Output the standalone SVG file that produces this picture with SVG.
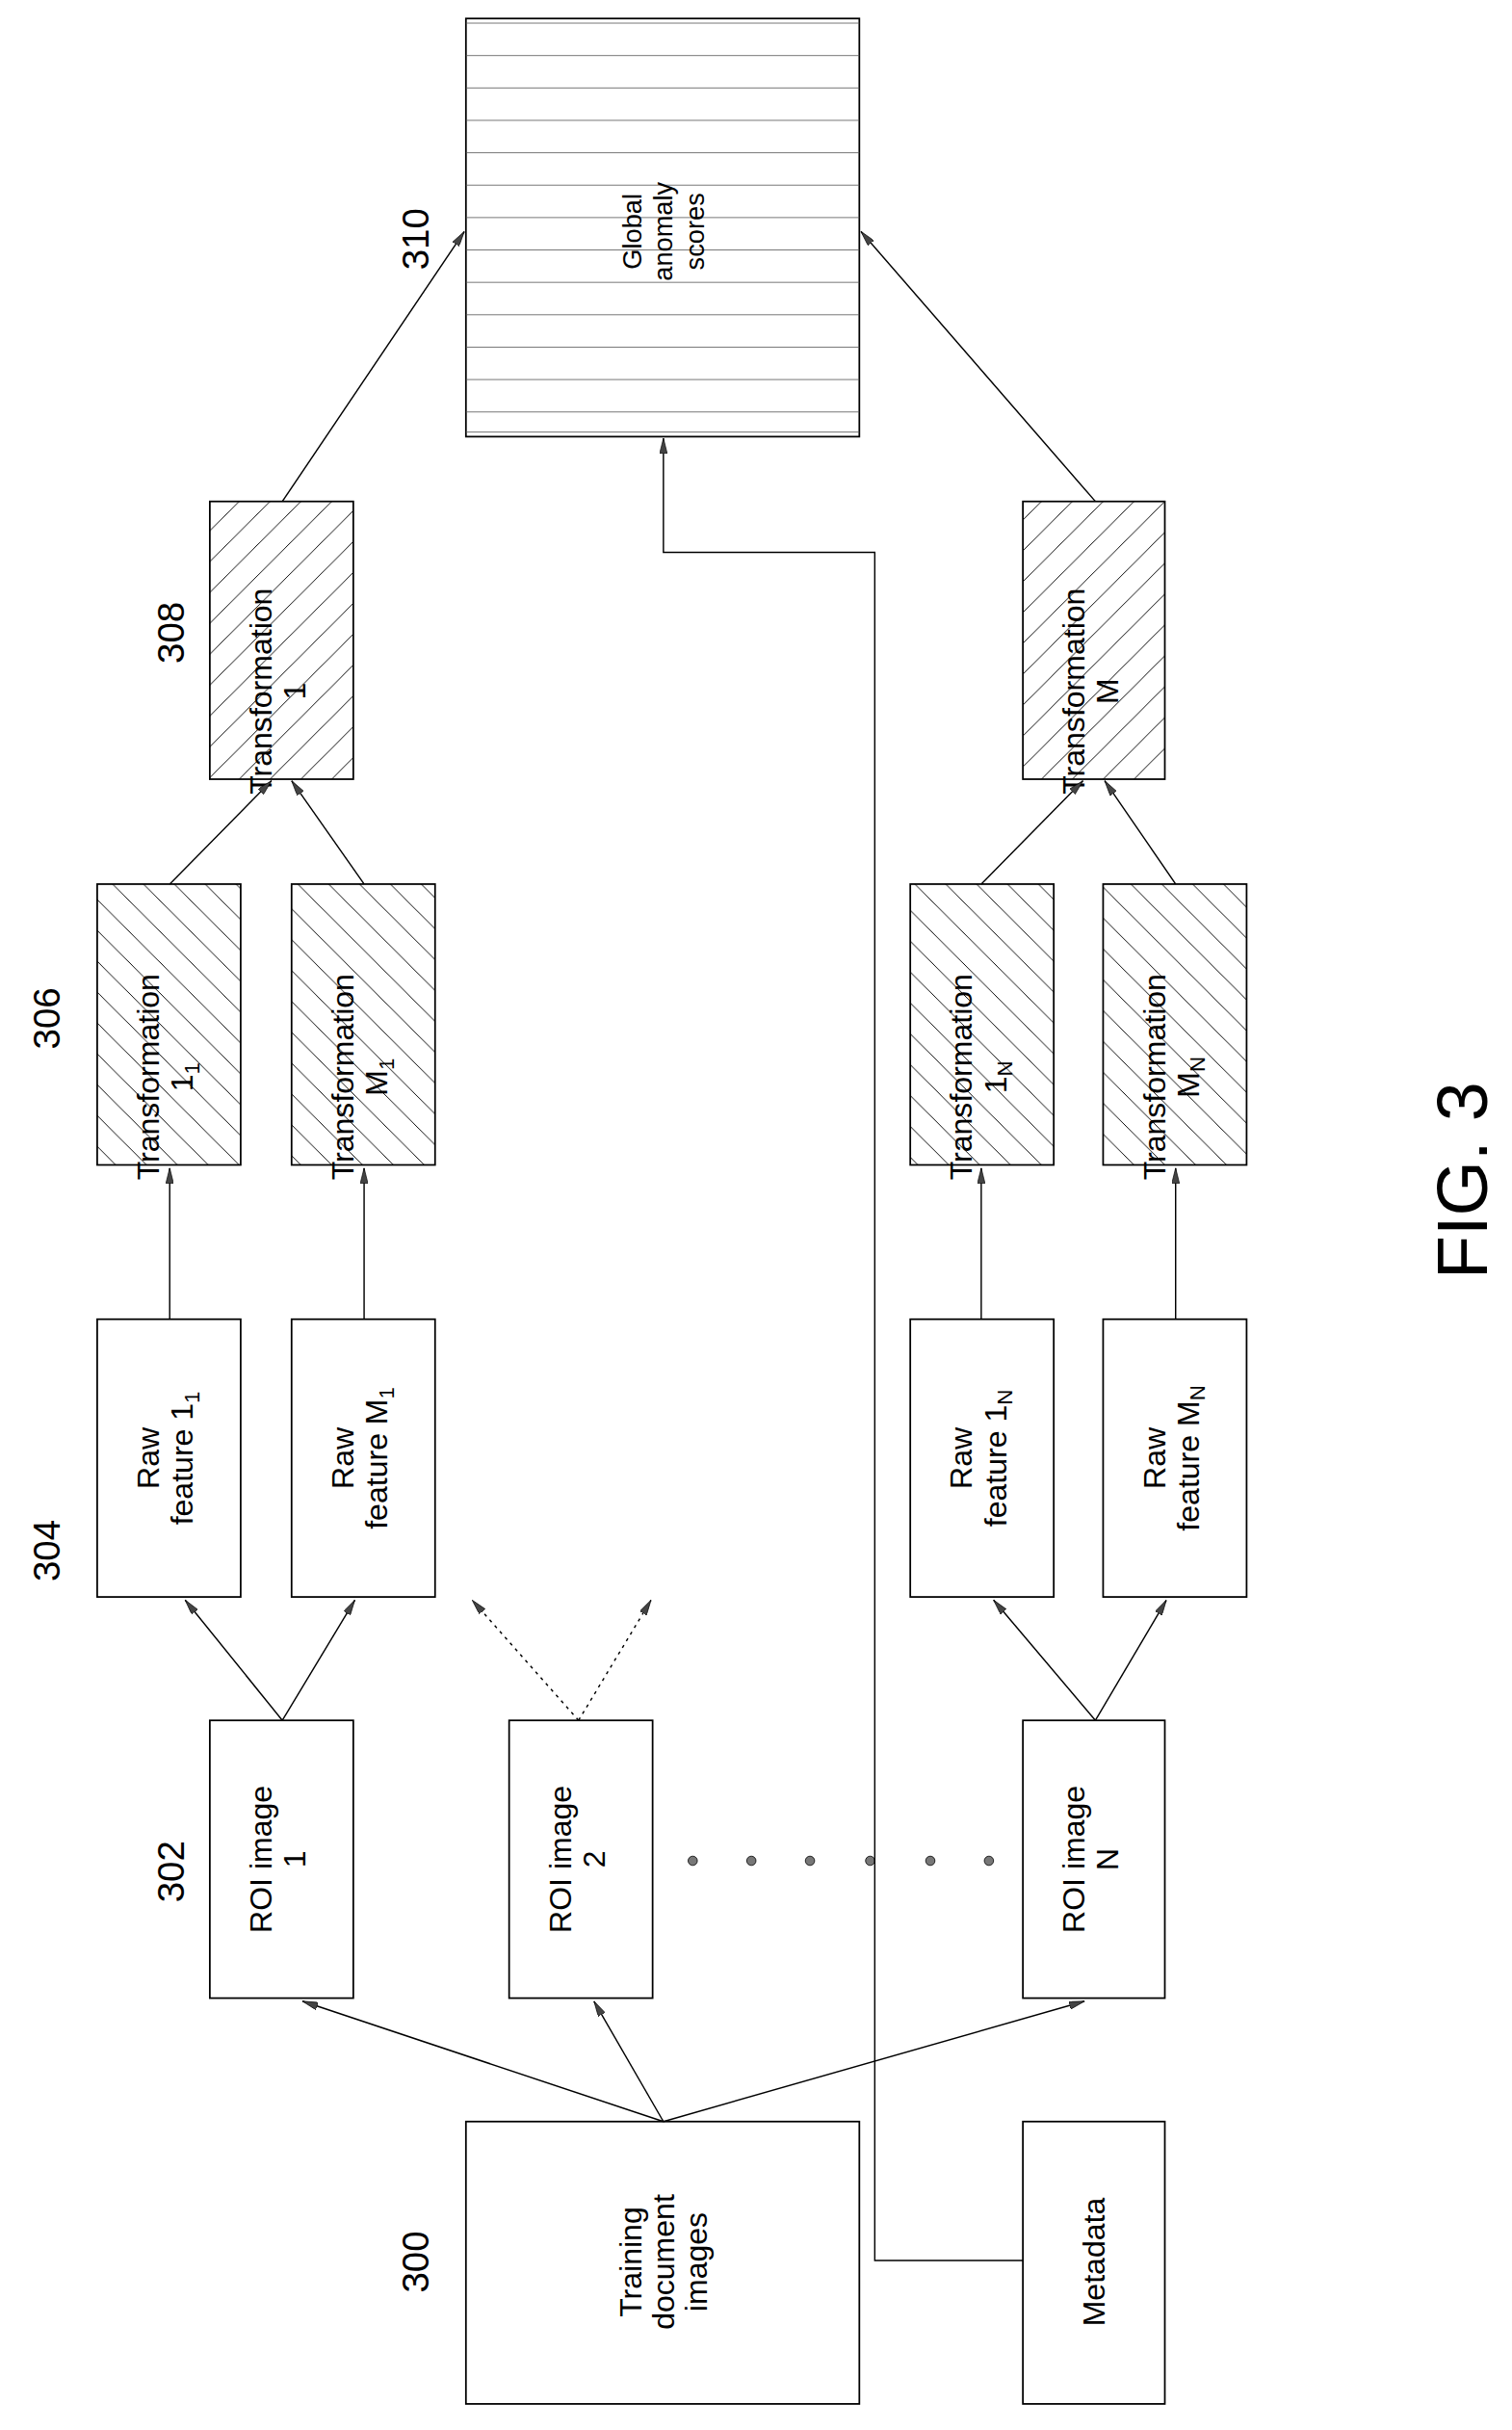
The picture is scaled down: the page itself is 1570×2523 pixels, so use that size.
<svg xmlns="http://www.w3.org/2000/svg" width="1570" height="2523" viewBox="0 0 1570 2523">
<style>
.b{fill:none;stroke:#000;stroke-width:1.1}
.h{stroke:#000;stroke-width:1.1}
.c{fill:none;stroke:#000;stroke-width:0.9}
text{font-family:"Liberation Sans",Arial,sans-serif;fill:#000}
.t{font-size:20px}
.n{font-size:24px}
</style>
<defs>
<marker id="a" viewBox="0 0 12 6" refX="12" refY="3" markerWidth="10" markerHeight="5" orient="auto" markerUnits="userSpaceOnUse"><path d="M0,0 L12,3 L0,6 Z" fill="#444" stroke="#000" stroke-width="0.5"/></marker>
<pattern id="hb" patternUnits="userSpaceOnUse" width="20" height="20"><path d="M-5,-5 L25,25" stroke="#000" stroke-width="0.6"/></pattern>
<pattern id="hf" patternUnits="userSpaceOnUse" width="20" height="20"><path d="M-5,25 L25,-5" stroke="#000" stroke-width="0.6"/></pattern>
</defs>
<rect width="1570" height="2523" fill="#fff"/>
<g transform="scale(1.602)">
<g id="n310">
<rect x="302" y="12" width="255" height="271" fill="#fff" class="h"/>
<path stroke="#555" stroke-width="0.5" fill="none" d="M302,15H557M302,36H557M302,57H557M302,78H557M302,99H557M302,120H557M302,141H557M302,162H557M302,183H557M302,204H557M302,225H557M302,246H557M302,267H557M302,280H557"/>
<g transform="translate(430,150) rotate(-90)" text-anchor="middle" font-size="17"><text y="-14">Global</text><text y="6">anomaly</text><text y="26">scores</text></g>
<text class="n" transform="translate(278,155) rotate(-90)" text-anchor="middle">310</text>
</g>
<g id="n308a"><rect x="136" y="325" width="93" height="180" fill="url(#hf)" class="h"/>
<g transform="translate(182,448) rotate(-90)" text-anchor="middle" class="t"><text y="-6">Transformation</text><text y="16">1</text></g>
<text class="n" transform="translate(119,410) rotate(-90)" text-anchor="middle">308</text></g>
<g id="n308b"><rect x="663" y="325" width="92" height="180" fill="url(#hf)" class="h"/>
<g transform="translate(709,448) rotate(-90)" text-anchor="middle" class="t"><text y="-6">Transformation</text><text y="16">M</text></g></g>
<text class="n" transform="translate(39,660) rotate(-90)" text-anchor="middle">306</text>
<g id="t11"><rect x="63" y="573" width="93" height="182" fill="url(#hb)" class="h"/>
<g transform="translate(109,698) rotate(-90)" text-anchor="middle" class="t"><text y="-6">Transformation</text><text y="16">1<tspan font-size="14" dy="4">1</tspan></text></g></g>
<g id="tm1"><rect x="189" y="573" width="93" height="182" fill="url(#hb)" class="h"/>
<g transform="translate(235,698) rotate(-90)" text-anchor="middle" class="t"><text y="-6">Transformation</text><text y="16">M<tspan font-size="14" dy="4">1</tspan></text></g></g>
<g id="t1n"><rect x="590" y="573" width="93" height="182" fill="url(#hb)" class="h"/>
<g transform="translate(636,698) rotate(-90)" text-anchor="middle" class="t"><text y="-6">Transformation</text><text y="16">1<tspan font-size="14" dy="4">N</tspan></text></g></g>
<g id="tmn"><rect x="715" y="573" width="93" height="182" fill="url(#hb)" class="h"/>
<g transform="translate(761,698) rotate(-90)" text-anchor="middle" class="t"><text y="-6">Transformation</text><text y="16">M<tspan font-size="14" dy="4">N</tspan></text></g></g>
<text class="n" transform="translate(39,1005) rotate(-90)" text-anchor="middle">304</text>
<g id="r11"><rect x="63" y="855" width="93" height="180" fill="#fff" class="h"/>
<g transform="translate(109,945) rotate(-90)" text-anchor="middle" class="t"><text y="-6">Raw</text><text y="16">feature 1<tspan font-size="14" dy="4">1</tspan></text></g></g>
<g id="rm1"><rect x="189" y="855" width="93" height="180" fill="#fff" class="h"/>
<g transform="translate(235,945) rotate(-90)" text-anchor="middle" class="t"><text y="-6">Raw</text><text y="16">feature M<tspan font-size="14" dy="4">1</tspan></text></g></g>
<g id="r1n"><rect x="590" y="855" width="93" height="180" fill="#fff" class="h"/>
<g transform="translate(636,945) rotate(-90)" text-anchor="middle" class="t"><text y="-6">Raw</text><text y="16">feature 1<tspan font-size="14" dy="4">N</tspan></text></g></g>
<g id="rmn"><rect x="715" y="855" width="93" height="180" fill="#fff" class="h"/>
<g transform="translate(761,945) rotate(-90)" text-anchor="middle" class="t"><text y="-6">Raw</text><text y="16">feature M<tspan font-size="14" dy="4">N</tspan></text></g></g>
<text class="n" transform="translate(119,1213) rotate(-90)" text-anchor="middle">302</text>
<g id="roi1"><rect x="136" y="1115" width="93" height="180" fill="#fff" class="h"/>
<g transform="translate(182,1205) rotate(-90)" text-anchor="middle" class="t"><text y="-6">ROI image</text><text y="16">1</text></g></g>
<g id="roi2"><rect x="330" y="1115" width="93" height="180" fill="#fff" class="h"/>
<g transform="translate(376,1205) rotate(-90)" text-anchor="middle" class="t"><text y="-6">ROI image</text><text y="16">2</text></g></g>
<g id="roin"><rect x="663" y="1115" width="92" height="180" fill="#fff" class="h"/>
<g transform="translate(709,1205) rotate(-90)" text-anchor="middle" class="t"><text y="-6">ROI image</text><text y="16">N</text></g></g>
<g id="dots" fill="#777" stroke="#000" stroke-width="0.5"><circle cx="449" cy="1206" r="3"/><circle cx="487" cy="1206" r="3"/><circle cx="525" cy="1206" r="3"/><circle cx="564" cy="1206" r="3"/><circle cx="603" cy="1206" r="3"/><circle cx="641" cy="1206" r="3"/></g>
<g id="n300"><rect x="302" y="1375" width="255" height="183" fill="#fff" class="h"/>
<g transform="translate(430,1466) rotate(-90)" text-anchor="middle" class="t"><text y="-14">Training</text><text y="7">document</text><text y="28">images</text></g>
<text class="n" transform="translate(278,1466) rotate(-90)" text-anchor="middle">300</text></g>
<g id="meta"><rect x="663" y="1375" width="92" height="183" fill="#fff" class="h"/>
<text class="t" transform="translate(716,1466) rotate(-90)" text-anchor="middle">Metadata</text></g>
<g id="connectors" class="c">
<path d="M663,1465H567V358H430V284" marker-end="url(#a)"/>
<path d="M430,1375L196,1297" marker-end="url(#a)"/>
<path d="M430,1375L385,1297" marker-end="url(#a)"/>
<path d="M430,1375L703,1297" marker-end="url(#a)"/>
<path d="M183,1115L120,1037" marker-end="url(#a)"/>
<path d="M183,1115L230,1037" marker-end="url(#a)"/>
<path d="M375,1115L306,1037" stroke-dasharray="2,3" marker-end="url(#a)"/>
<path d="M375,1115L422,1037" stroke-dasharray="2,3" marker-end="url(#a)"/>
<path d="M710,1115L644,1037" marker-end="url(#a)"/>
<path d="M710,1115L756,1037" marker-end="url(#a)"/>
<path d="M110,855V757" marker-end="url(#a)"/>
<path d="M236,855V757" marker-end="url(#a)"/>
<path d="M636,855V757" marker-end="url(#a)"/>
<path d="M762,855V757" marker-end="url(#a)"/>
<path d="M110,573L176,506" marker-end="url(#a)"/>
<path d="M236,573L189,506" marker-end="url(#a)"/>
<path d="M636,573L702,506" marker-end="url(#a)"/>
<path d="M762,573L716,506" marker-end="url(#a)"/>
<path d="M183,325L301,150" marker-end="url(#a)"/>
<path d="M710,325L558,150" marker-end="url(#a)"/>
</g>
<text transform="translate(964,765) rotate(-90)" text-anchor="middle" font-size="46">FIG. 3</text>
</g>
</svg>
